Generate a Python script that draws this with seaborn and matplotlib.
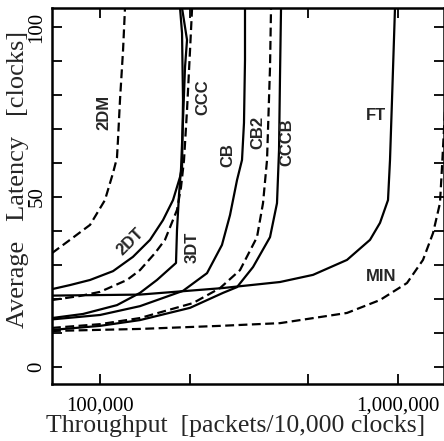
import matplotlib
matplotlib.use("Agg")
import matplotlib.pyplot as plt
from matplotlib.ticker import NullLocator
import numpy as np
import pandas as pd
import seaborn as sns

# ---- data (throughput [packets/10,000 clocks], latency [clocks]) ----
dm2_x = [69000, 79300, 92600, 103900, 110600, 114000, 114900, 116700, 119500, 121300]
dm2_y = [33.5, 37.4, 41.8, 49.1, 57.1, 61.5, 66.8, 78.5, 93.2, 105.6]

ccc_x = [69000, 85700, 100000, 123200, 136200, 152950, 165200, 181300, 187000, 191400, 195900, 200500, 203700]
ccc_y = [19.7, 20.9, 22.1, 25.6, 28.5, 33.5, 37.4, 46.2, 52.9, 60.9, 75.6, 93.2, 105.6]

dt2_x = [69000, 79300, 92600, 110600, 129000, 147200, 162700, 175800, 185600, 188500, 189900, 188500, 185600]
dt2_y = [22.9, 24.1, 25.6, 28.2, 32.4, 37.4, 43.2, 49.1, 55.9, 58.8, 78.5, 98.2, 105.6]

dt3_x = [69000, 87700, 114000, 136200, 155300, 179900, 181300, 184100, 187000, 189900, 192900, 195900, 188500]
dt3_y = [14.4, 15.6, 18.2, 21.8, 25.6, 30.6, 40.3, 50.6, 58.2, 72.6, 88.2, 96.2, 105.6]

cb_x = [69000, 100000, 136200, 189900, 228600, 256600, 273100, 288300, 299600, 304200, 306600, 306600]
cb_y = [14.0, 15.3, 17.9, 22.4, 27.6, 35.9, 44.7, 55.0, 60.9, 71.8, 90.3, 105.6]

cb2_x = [69000, 100000, 136200, 205100, 252700, 295000, 336400, 352400, 363500, 372000, 374900]
cb2_y = [11.5, 12.6, 14.4, 18.8, 23.2, 28.5, 38.2, 48.2, 60.9, 88.2, 105.6]

cccb_x = [69000, 100000, 136200, 200500, 258600, 288300, 326200, 372000, 392600, 398800, 401800, 405000]
cccb_y = [10.9, 12.1, 13.8, 17.4, 21.8, 23.5, 29.4, 38.2, 48.2, 63.8, 85.3, 105.6]

ft_x = [69000, 136200, 256600, 401800, 518600, 674300, 805500, 870200, 925700, 940100, 954700, 977000]
ft_y = [21.0, 21.3, 23.2, 25.0, 27.1, 31.5, 37.4, 42.4, 49.1, 60.9, 78.5, 105.6]

min_x = [69000, 136200, 252700, 401800, 674300, 870200, 1072000, 1213000, 1311000, 1383000, 1405000, 1438000]
min_y = [10.6, 11.2, 12.1, 12.9, 15.9, 19.7, 24.7, 31.5, 39.4, 48.2, 58.8, 75.6]

curves = {
    "2DM": (dm2_x, dm2_y, True),
    "CCC": (ccc_x, ccc_y, True),
    "2DT": (dt2_x, dt2_y, False),
    "3DT": (dt3_x, dt3_y, False),
    "CB": (cb_x, cb_y, False),
    "CB2": (cb2_x, cb2_y, True),
    "CCCB": (cccb_x, cccb_y, False),
    "FT": (ft_x, ft_y, False),
    "MIN": (min_x, min_y, True),
}

x_ticks = [100000, 200000, 500000, 1000000]
x_tick_labels = ["100,000", "", "", "1,000,000"]
y_ticks = list(range(0, 101, 10))
y_tick_labels = ["0", "", "", "", "", "50", "", "", "", "", "100"]

rows = []
for name, (xs, ys, dashed) in curves.items():
    for i, (xv, yv) in enumerate(zip(xs, ys)):
        rows.append({"network": name, "order": i, "throughput": xv, "latency": yv})
df = pd.DataFrame(rows)

# ---- figure ----
sns.set_style("ticks")
plt.rcParams["font.family"] = ["Liberation Serif", "DejaVu Serif"]

fig = plt.figure(figsize=(4.44, 4.41), dpi=100)
ax = fig.add_axes([52 / 444, (441 - 384) / 441, (443.5 - 52) / 444, (384 - 8) / 441])

palette = {n: "black" for n in curves}
dashes = {n: ((4, 2) if d else "") for n, (_, _, d) in curves.items()}
sns.lineplot(data=df, x="throughput", y="latency", hue="network", style="network",
             palette=palette, dashes=dashes, sort=False, estimator=None,
             legend=False, linewidth=1.6, ax=ax)

ax.set_xscale("log")
ax.set_xlim(10 ** (5 + (52 - 100) / 298), 10 ** (5 + (443.5 - 100) / 298))
ax.set_ylim(-5, 105.6)
ax.set_xticks(x_ticks)
ax.set_xticklabels(x_tick_labels)
ax.xaxis.set_minor_locator(NullLocator())
ax.set_yticks(y_ticks)
ax.set_yticklabels(y_tick_labels, rotation=90, va="center")

ax.tick_params(direction="in", length=7, width=1.3, top=True, right=True,
               labelsize=15, colors="black")
ax.tick_params(axis="x", pad=9)
ax.tick_params(axis="y", pad=4)
for s in ax.spines.values():
    s.set_linewidth(1.8)
    s.set_color("black")

ax.set_xlabel("Throughput  [packets/10,000 clocks]", fontsize=18.5)
ax.set_ylabel("Average   Latency   [clocks]", fontsize=19)
ax.xaxis.set_label_coords((236 - 52) / 391.5, -0.083)
ax.yaxis.set_label_coords((29 - 52) / 391.5, 0.543)

lab_kw = dict(transform=ax.transAxes, fontsize=12, fontweight="bold",
              family="Liberation Sans", ha="center", va="center")
ax.text(0.133, 0.723, "2DM", rotation=90, **lab_kw)
ax.text(0.386, 0.763, "CCC", rotation=90, **lab_kw)
ax.text(0.199, 0.378, "2DT", rotation=45, **lab_kw)
ax.text(0.358, 0.364, "3DT", rotation=90, **lab_kw)
ax.text(0.450, 0.609, "CB", rotation=90, **lab_kw)
ax.text(0.526, 0.668, "CB2", rotation=90, **lab_kw)
ax.text(0.600, 0.644, "CCCB", rotation=90, **lab_kw)
ax.text(0.828, 0.715, "FT", rotation=0, **lab_kw)
ax.text(0.840, 0.287, "MIN", rotation=0, **lab_kw)

fig.savefig("out.png", dpi=100)
